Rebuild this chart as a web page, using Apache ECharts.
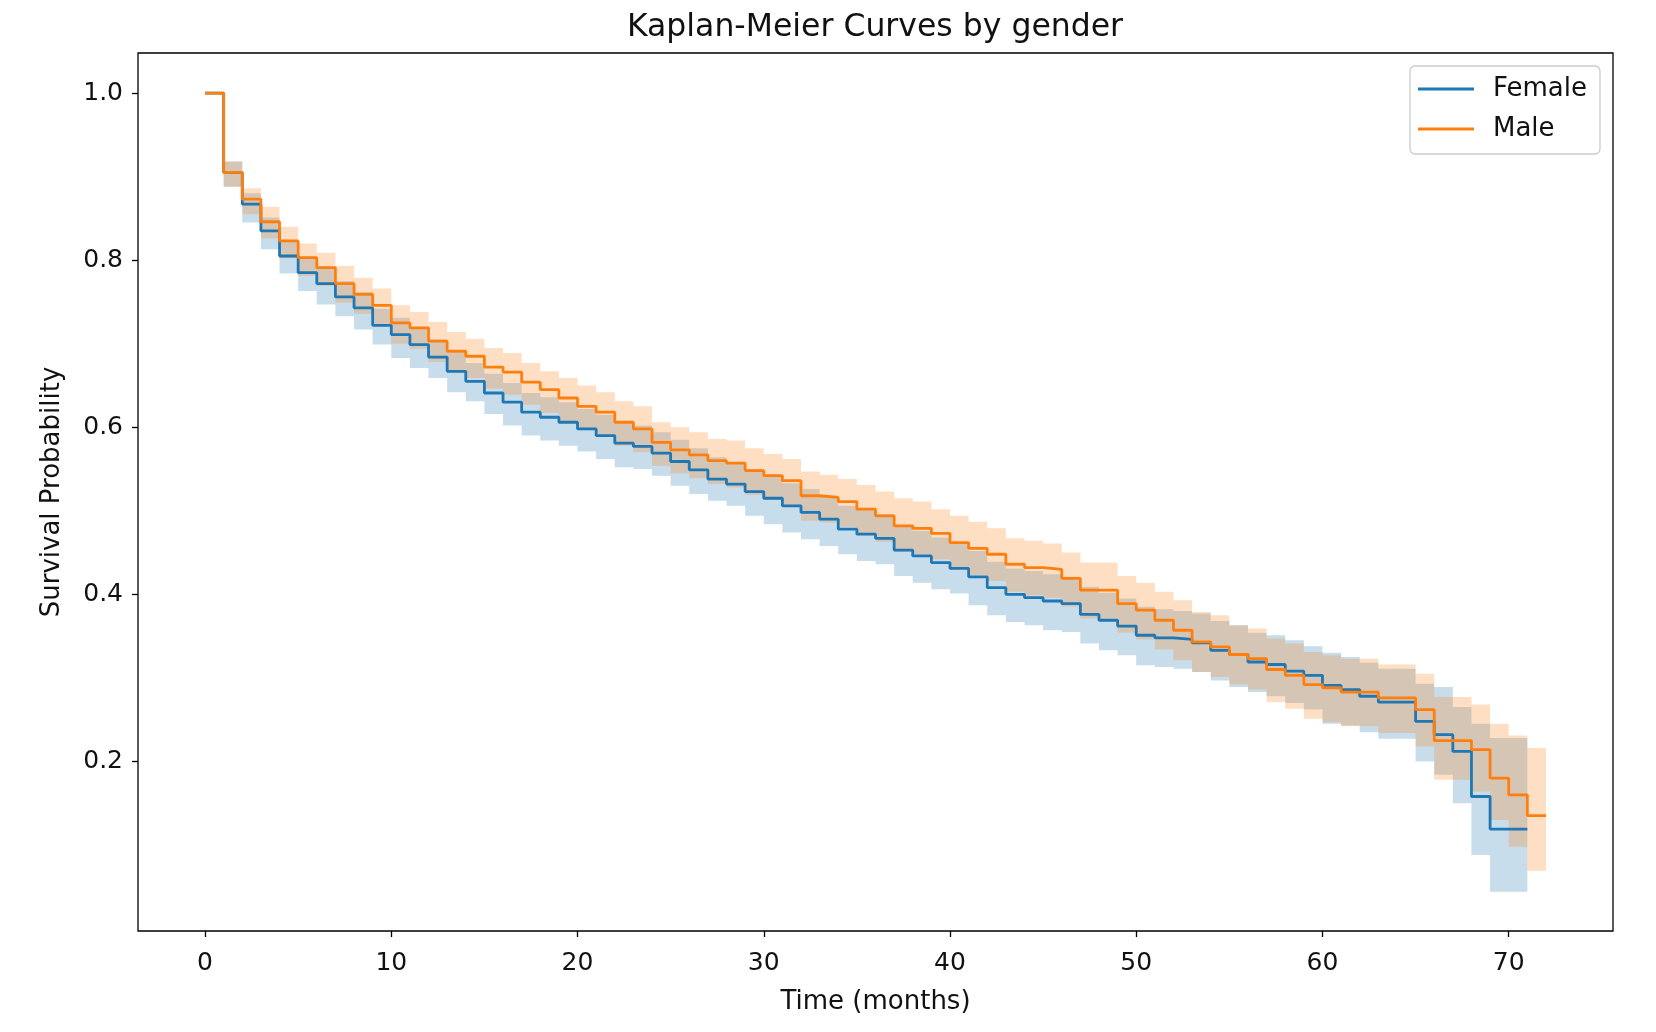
<!DOCTYPE html>
<html>
<head>
<meta charset="utf-8">
<title>Kaplan-Meier Curves by gender</title>
<script src="https://cdn.jsdelivr.net/npm/echarts@6/dist/echarts.min.js"></script>
<style>
html,body{margin:0;padding:0;background:#fff;}
#km{width:1656px;height:1032px;}
</style>
</head>
<body>
<div id="km"></div>
<script>
// tenure in months (step points)
var months = [0,1,2,3,4,5,6,7,8,9,10,11,12,13,14,15,16,17,18,19,20,21,22,23,24,25,26,27,28,29,30,31,32,33,34,35,36,
  37,38,39,40,41,42,43,44,45,46,47,48,49,50,51,52,53,54,55,56,57,58,59,60,61,62,63,64,65,66,67,68,69,70,71,72];

// Female: survival estimate and confidence band (t = 0..71)
var femaleSurv = [1.000,0.905,0.867,0.835,0.805,0.785,0.772,0.756,0.743,0.722,
  0.711,0.699,0.684,0.667,0.655,0.641,0.630,0.618,0.612,0.606,
  0.598,0.590,0.581,0.577,0.569,0.559,0.549,0.538,0.532,0.523,
  0.515,0.506,0.498,0.490,0.478,0.472,0.467,0.453,0.446,0.438,
  0.431,0.421,0.408,0.400,0.396,0.392,0.389,0.376,0.369,0.362,
  0.351,0.348,0.346,0.342,0.333,0.328,0.319,0.316,0.308,0.303,
  0.291,0.286,0.278,0.271,0.271,0.248,0.232,0.212,0.158,0.119,
  0.119,0.119];
var femaleUpper = [1.000,0.918,0.880,0.851,0.822,0.803,0.790,0.775,0.762,0.742,
  0.731,0.720,0.705,0.689,0.677,0.664,0.653,0.641,0.636,0.630,
  0.622,0.615,0.606,0.602,0.594,0.585,0.575,0.564,0.558,0.550,
  0.542,0.533,0.526,0.518,0.506,0.501,0.496,0.482,0.476,0.468,
  0.461,0.452,0.439,0.431,0.428,0.424,0.421,0.409,0.402,0.395,
  0.385,0.382,0.380,0.377,0.368,0.363,0.354,0.351,0.345,0.338,
  0.330,0.325,0.318,0.311,0.311,0.293,0.289,0.265,0.245,0.228,
  0.228,0.228];
var femaleLower = [1.000,0.888,0.845,0.813,0.784,0.763,0.747,0.733,0.717,0.699,
  0.683,0.671,0.659,0.642,0.631,0.616,0.602,0.590,0.584,0.578,
  0.571,0.562,0.552,0.550,0.542,0.530,0.520,0.512,0.506,0.494,
  0.484,0.474,0.466,0.458,0.448,0.440,0.436,0.422,0.414,0.406,
  0.401,0.387,0.375,0.367,0.363,0.357,0.355,0.341,0.333,0.327,
  0.315,0.313,0.311,0.307,0.297,0.289,0.283,0.278,0.270,0.262,
  0.245,0.243,0.235,0.227,0.227,0.200,0.184,0.150,0.088,0.044,
  0.044,0.044];

// Male: survival estimate and confidence band (t = 0..72)
var maleSurv = [1.000,0.905,0.873,0.846,0.823,0.803,0.791,0.772,0.759,0.746,
  0.725,0.719,0.703,0.691,0.685,0.672,0.666,0.654,0.645,0.635,
  0.625,0.618,0.606,0.598,0.582,0.573,0.567,0.560,0.557,0.548,
  0.542,0.536,0.518,0.516,0.511,0.502,0.494,0.482,0.479,0.473,
  0.462,0.455,0.448,0.436,0.432,0.430,0.419,0.405,0.405,0.389,
  0.381,0.369,0.357,0.343,0.337,0.328,0.323,0.310,0.303,0.292,
  0.288,0.283,0.283,0.276,0.276,0.262,0.225,0.225,0.214,0.180,
  0.160,0.135,0.135];
var maleUpper = [1.000,0.918,0.886,0.864,0.840,0.820,0.809,0.793,0.779,0.766,
  0.746,0.738,0.726,0.714,0.706,0.695,0.689,0.677,0.667,0.659,
  0.650,0.642,0.631,0.625,0.606,0.600,0.594,0.586,0.584,0.575,
  0.568,0.562,0.547,0.543,0.538,0.531,0.523,0.515,0.511,0.502,
  0.494,0.487,0.479,0.467,0.464,0.461,0.450,0.438,0.438,0.422,
  0.414,0.403,0.393,0.379,0.375,0.363,0.359,0.347,0.341,0.331,
  0.327,0.323,0.323,0.316,0.316,0.305,0.277,0.277,0.268,0.245,
  0.231,0.216,0.216];
var maleLower = [1.000,0.888,0.855,0.826,0.802,0.781,0.769,0.749,0.736,0.722,
  0.700,0.694,0.678,0.665,0.659,0.646,0.639,0.627,0.617,0.607,
  0.597,0.590,0.578,0.570,0.554,0.545,0.539,0.532,0.528,0.519,
  0.513,0.507,0.488,0.486,0.481,0.472,0.463,0.451,0.448,0.442,
  0.430,0.423,0.416,0.403,0.399,0.396,0.385,0.371,0.371,0.354,
  0.346,0.334,0.321,0.307,0.301,0.292,0.286,0.271,0.263,0.251,
  0.247,0.242,0.242,0.234,0.234,0.218,0.178,0.178,0.164,0.130,
  0.098,0.069,0.069];

var xTicks = [0,10,20,30,40,50,60,70];
var yTicks = [0.2,0.4,0.6,0.8,1.0];

var BLUE = '#1f77b4';
var ORANGE = '#ff7f0e';
var FONT = 'DejaVu Sans';

function pairs(ts, vs){
  var out = [];
  for (var i = 0; i < vs.length; i++) out.push([ts[i], vs[i]]);
  return out;
}

// confidence band drawn as one step-shaped polygon (steps-post), via the axes' own coords
function bandSeries(name, color, lo, hi){
  var n = lo.length;
  return {
    name: name + ' CI',
    type: 'custom',
    silent: true,
    clip: true,
    z: 1,
    data: [[months[0], hi[0]]],
    renderItem: function (params, api) {
      var pts = [];
      for (var i = 0; i < n - 1; i++) {
        pts.push(api.coord([months[i], hi[i]]));
        pts.push(api.coord([months[i + 1], hi[i]]));
      }
      pts.push(api.coord([months[n - 1], hi[n - 1]]));
      pts.push(api.coord([months[n - 1], lo[n - 1]]));
      for (var j = n - 2; j >= 0; j--) {
        pts.push(api.coord([months[j + 1], lo[j]]));
        pts.push(api.coord([months[j], lo[j]]));
      }
      return {
        type: 'polygon',
        shape: {points: pts},
        style: {fill: color, opacity: 0.25}
      };
    }
  };
}

function curveSeries(name, color, vs){
  return {
    name: name,
    type: 'line',
    step: 'end',
    symbol: 'none',
    color: color,
    lineStyle: {color: color, width: 2.8},
    data: pairs(months, vs),
    z: 3
  };
}

var chart = echarts.init(document.getElementById('km'));

var series = [
  bandSeries('Female', BLUE, femaleLower, femaleUpper),
  bandSeries('Male', ORANGE, maleLower, maleUpper),
  curveSeries('Female', BLUE, femaleSurv),
  curveSeries('Male', ORANGE, maleSurv)
];

var option = {
  backgroundColor: '#fff',
  animation: false,
  title: {
    text: 'Kaplan-Meier Curves by gender',
    left: 875,
    top: 12,
    padding: 0,
    textAlign: 'center',
    textStyle: {fontFamily: FONT, fontSize: 31.5, fontWeight: 'normal', color: '#111'}
  },
  legend: {
    data: ['Female', 'Male'],
    orient: 'vertical',
    right: 56,
    top: 66,
    icon: 'rect',
    itemWidth: 56,
    itemHeight: 3,
    itemGap: 12,
    padding: [9, 13, 11, 8],
    borderColor: '#cccccc',
    borderWidth: 1.3,
    borderRadius: 5,
    backgroundColor: 'rgba(255,255,255,0.8)',
    textStyle: {fontFamily: FONT, fontSize: 26, color: '#111', lineHeight: 28, padding: [0, 0, 0, 14]}
  },
  grid: {
    left: 138,
    right: 43,
    top: 53,
    bottom: 101,
    show: true,
    borderColor: '#000',
    borderWidth: 1.3,
    backgroundColor: 'transparent'
  },
  xAxis: {
    type: 'value',
    min: -3.6,
    max: 75.6,
    name: 'Time (months)',
    nameLocation: 'middle',
    nameGap: 58,
    nameTextStyle: {fontFamily: FONT, fontSize: 26, color: '#111'},
    axisLine: {show: false, onZero: false},
    splitLine: {show: false},
    axisTick: {show: true, customValues: xTicks, length: 6, lineStyle: {color: '#000', width: 1.3}},
    axisLabel: {customValues: xTicks, fontFamily: FONT, fontSize: 25, color: '#111', margin: 20}
  },
  yAxis: {
    type: 'value',
    min: -0.003,
    max: 1.048,
    name: 'Survival Probability',
    nameLocation: 'middle',
    nameGap: 73,
    nameTextStyle: {fontFamily: FONT, fontSize: 26, color: '#111'},
    axisLine: {show: false, onZero: false},
    splitLine: {show: false},
    axisTick: {show: true, customValues: yTicks, length: 6, lineStyle: {color: '#000', width: 1.3}},
    axisLabel: {
      customValues: yTicks, fontFamily: FONT, fontSize: 25, color: '#111', margin: 15,
      formatter: function (v) { return v.toFixed(1); }
    }
  },
  series: series
};

chart.setOption(option);
</script>
</body>
</html>
